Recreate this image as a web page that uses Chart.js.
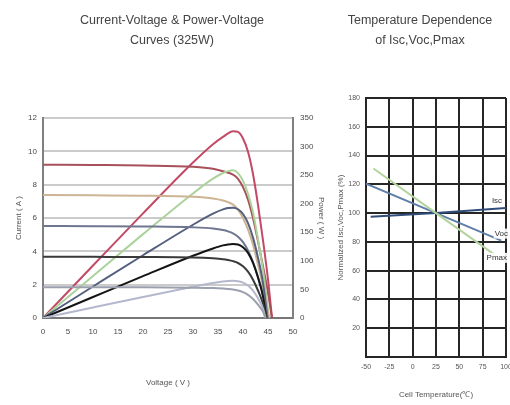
<!DOCTYPE html>
<html>
<head>
<meta charset="utf-8">
<script src="https://cdn.jsdelivr.net/npm/chart.js@4/dist/chart.umd.min.js"></script>
<style>
  html, body { margin: 0; padding: 0; background: #fff; overflow: hidden; width: 510px; height: 405px; }
  #ivBox { position: absolute; left: 0; top: 0; width: 344px; height: 405px; }
  #tBox  { position: absolute; left: 334px; top: 0; width: 212px; height: 405px; }
</style>
</head>
<body>
<div id="ivBox"><canvas id="iv"></canvas></div>
<div id="tBox"><canvas id="temp"></canvas></div>
<script>
// ---- I-V / P-V curves at five irradiance levels (W/m²) ----
const v1000 = [0, 10, 20, 30, 34, 36, 38, 39, 40, 41, 42, 43, 44, 45, 45.8];
const i1000 = [9.2, 9.18, 9.15, 9.07, 8.95, 8.8, 8.6, 8.35, 7.85, 7.1, 6.0, 4.6, 3.1, 1.5, 0];
const p1000 = [0, 91.8, 183, 272, 304, 317, 327, 325.6, 314, 291, 252, 198, 136, 67.5, 0];

const v800 = [0, 10, 20, 30, 34, 36, 37, 38, 39, 40, 41, 42, 43, 44, 45.2];
const i800 = [7.38, 7.36, 7.34, 7.27, 7.17, 7.05, 6.95, 6.8, 6.5, 6.0, 5.3, 4.4, 3.2, 1.9, 0];
const p800 = [0, 73.6, 146.8, 218, 243.8, 253.8, 257, 258.4, 253.5, 240, 217.3, 184.8, 137.6, 83.6, 0];

const v600 = [0, 10, 20, 30, 34, 36, 37, 38, 39, 40, 41, 42, 43, 44, 44.9];
const i600 = [5.52, 5.51, 5.49, 5.44, 5.37, 5.28, 5.2, 5.08, 4.88, 4.55, 4.05, 3.35, 2.45, 1.4, 0];
const p600 = [0, 55.1, 109.8, 163.2, 182.6, 190, 192.4, 193, 190.3, 182, 166, 140.7, 105.4, 61.6, 0];

const v400 = [0, 10, 20, 30, 34, 36, 37, 38, 39, 40, 41, 42, 43, 44, 44.7];
const i400 = [3.68, 3.67, 3.66, 3.63, 3.58, 3.53, 3.48, 3.41, 3.3, 3.1, 2.78, 2.3, 1.65, 0.85, 0];
const p400 = [0, 36.7, 73.2, 108.9, 121.7, 127.1, 128.8, 129.6, 128.7, 124, 114, 96.6, 71, 37.4, 0];

const v200 = [0, 10, 20, 30, 34, 36, 37, 38, 39, 40, 41, 42, 43, 44, 44.5];
const i200 = [1.85, 1.845, 1.84, 1.82, 1.8, 1.77, 1.745, 1.71, 1.65, 1.55, 1.39, 1.14, 0.8, 0.38, 0];
const p200 = [0, 18.5, 36.8, 54.6, 61.2, 63.7, 64.6, 65, 64.4, 62, 57, 47.9, 34.4, 16.7, 0];

// ---- temperature dependence (% of value at 25 °C) ----
const tempIsc = [-45, 25, 100];
const iscPct  = [97.5, 100, 103.5];
const tempVoc = [-50, 25, 95];
const vocPct  = [120.5, 100, 80.9];
const tempPmax = [-42, 25, 88];
const pmaxPct  = [131, 100, 71];
const tempSeriesNames = ['Pmax', 'Voc', 'Isc'];

// ---- text ----
const ivTitle = ['Current-Voltage & Power-Voltage', 'Curves (325W)'];
const tTitle = ['Temperature Dependence', 'of Isc,Voc,Pmax'];

const FONT = '"Liberation Sans", Arial, sans-serif';
const pts = (xs, ys) => xs.map((x, k) => ({ x: x, y: ys[k] }));

function line(data, color, axis) {
  return { data: data, borderColor: color, backgroundColor: color, yAxisID: axis,
           borderWidth: 2, pointRadius: 0, fill: false, cubicInterpolationMode: 'monotone' };
}

new Chart(document.getElementById('iv'), {
  type: 'line',
  data: {
    datasets: [
      line(pts(v200, i200), '#9aa0ae', 'y'),
      line(pts(v200, p200), '#b4b8cc', 'y1'),
      line(pts(v400, i400), '#3a3a3a', 'y'),
      line(pts(v400, p400), '#141414', 'y1'),
      line(pts(v600, i600), '#6f7690', 'y'),
      line(pts(v600, p600), '#55607e', 'y1'),
      line(pts(v800, i800), '#cdb494', 'y'),
      line(pts(v800, p800), '#acd29c', 'y1'),
      line(pts(v1000, i1000), '#a8505a', 'y'),
      line(pts(v1000, p1000), '#c24a66', 'y1')
    ]
  },
  options: {
    responsive: true, maintainAspectRatio: false, animation: false,
    layout: { padding: 0 },
    plugins: {
      legend: { display: false }, tooltip: { enabled: false },
      title: { display: true, text: ivTitle, color: '#444',
               font: { family: FONT, size: 12.5, weight: 'normal', lineHeight: '20px' },
               padding: { top: 11, bottom: 67 } }
    },
    scales: {
      x: {
        type: 'linear', min: 0, max: 50,
        ticks: { stepSize: 5, padding: 9, color: '#4a4a4a', font: { family: FONT, size: 8 } },
        grid: { display: false, drawTicks: false },
        border: { color: '#777', width: 2 },
        title: { display: true, text: 'Voltage ( V )', color: '#555',
                 font: { family: FONT, size: 8 }, padding: { top: 0, bottom: 17 } },
        afterFit(s) { s.height = 87; }
      },
      y: {
        position: 'left', min: 0, max: 12,
        ticks: { stepSize: 2, padding: 6, color: '#4a4a4a', font: { family: FONT, size: 8 } },
        grid: { color: '#cbcbcb', lineWidth: 2, drawTicks: false },
        border: { color: '#808080', width: 2 },
        title: { display: true, text: 'Current ( A )', color: '#555',
                 font: { family: FONT, size: 8 }, padding: { top: 14, bottom: 0 } },
        afterFit(s) { s.width = 43; }
      },
      y1: {
        position: 'right', min: 0, max: 350,
        ticks: { stepSize: 50, padding: 7, color: '#4a4a4a', font: { family: FONT, size: 8 } },
        grid: { display: false, drawTicks: false },
        border: { color: '#808080', width: 2 },
        title: { display: true, text: 'Power ( W )', color: '#555',
                 font: { family: FONT, size: 8 }, padding: { top: 18, bottom: 0 } },
        afterFit(s) { s.width = 51; }
      }
    }
  }
});

// Writes each series name next to the end of its line
const endLabels = {
  id: 'endLabels',
  afterDatasetsDraw(chart) {
    const { ctx, scales } = chart;
    const offsets = { Isc: [-9, -7], Voc: [0, -7], Pmax: [2, 3] };
    ctx.save();
    ctx.font = '8px ' + FONT;
    ctx.textAlign = 'center';
    ctx.textBaseline = 'middle';
    chart.data.datasets.forEach(ds => {
      const last = ds.data[ds.data.length - 1];
      const off = offsets[ds.label];
      const x = scales.x.getPixelForValue(last.x) + off[0];
      const y = scales.y.getPixelForValue(last.y) + off[1];
      const w = ctx.measureText(ds.label).width;
      ctx.fillStyle = 'rgba(255,255,255,0.9)';
      ctx.fillRect(x - w / 2 - 1, y - 5, w + 2, 10);
      ctx.fillStyle = '#333';
      ctx.fillText(ds.label, x, y);
    });
    ctx.restore();
  }
};

const tempColors = { Pmax: '#b3d49e', Voc: '#5f7ea8', Isc: '#2f4c7a' };
const tempData = { Pmax: pts(tempPmax, pmaxPct), Voc: pts(tempVoc, vocPct), Isc: pts(tempIsc, iscPct) };

new Chart(document.getElementById('temp'), {
  type: 'line',
  data: {
    datasets: tempSeriesNames.map(n => ({
      label: n, data: tempData[n], borderColor: tempColors[n], borderWidth: 2,
      pointRadius: 0, tension: 0, fill: false
    }))
  },
  options: {
    responsive: true, maintainAspectRatio: false, animation: false,
    layout: { padding: { left: 0, right: 40, top: 0, bottom: 0 } },
    plugins: {
      legend: { display: false }, tooltip: { enabled: false },
      title: { display: true, text: tTitle, color: '#444',
               font: { family: FONT, size: 12.5, weight: 'normal', lineHeight: '20px' },
               padding: { top: 11, bottom: 47 } }
    },
    scales: {
      x: {
        type: 'linear', min: -50, max: 100,
        ticks: { stepSize: 25, padding: 6, color: '#555', font: { family: FONT, size: 7 } },
        grid: { color: '#262626', lineWidth: 2, drawTicks: false },
        border: { color: '#262626', width: 2 },
        title: { display: true, text: 'Cell Temperature(℃)', color: '#555',
                 font: { family: FONT, size: 8 }, padding: { top: 0, bottom: 5 } },
        afterFit(s) { s.height = 48; }
      },
      y: {
        min: 0, max: 180,
        ticks: { stepSize: 20, padding: 6, color: '#555', font: { family: FONT, size: 7 },
                 callback: v => (v === 0 ? '' : v) },
        grid: { color: '#262626', lineWidth: 2, drawTicks: false },
        border: { color: '#262626', width: 2 },
        title: { display: true, text: 'Normalized Isc,Voc,Pmax (%)', color: '#555',
                 font: { family: FONT, size: 8 }, padding: { top: 2, bottom: 0 } },
        afterFit(s) { s.width = 32; }
      }
    }
  },
  plugins: [endLabels]
});
</script>
</body>
</html>
